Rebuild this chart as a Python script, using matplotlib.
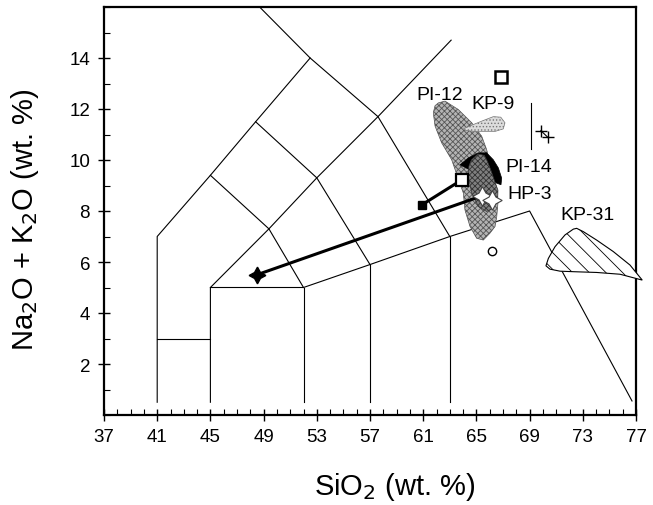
import matplotlib
matplotlib.use("Agg")
import matplotlib.pyplot as plt
from matplotlib.patches import Polygon

plt.rcParams['font.family'] = ['Liberation Sans', 'DejaVu Sans']
plt.rcParams['hatch.linewidth'] = 0.6

# TAS classification boundary segments (SiO2, Na2O+K2O)
tas_lines = [
    [(41, 0.5), (41, 7), (45, 9.4), (48.4, 11.5), (52.5, 14), (48.7, 16)],
    [(41, 3), (45, 3)],
    [(45, 0.5), (45, 5), (52, 5), (57, 5.9), (63, 7), (69, 8), (76.7, 0.55)],
    [(52, 0.5), (52, 5)],
    [(57, 0.5), (57, 5.9)],
    [(63, 0.5), (63, 7)],
    [(45, 5), (49.4, 7.3), (53, 9.3), (57.6, 11.7), (63.1, 14.7)],
    [(45, 9.4), (49.4, 7.3), (52, 5)],
    [(48.4, 11.5), (53, 9.3), (57, 5.9)],
    [(52.5, 14), (57.6, 11.7), (63, 7)],
    [(69.1, 10.45), (69.1, 12.25)],
]

# Field outlines
pi12_x = [62.14, 62.64, 63.64, 64.65, 65.40, 65.77, 66.02, 66.40, 66.62, 66.53, 66.40, 66.02,
          65.52, 65.02, 64.52, 64.14, 64.02, 63.62, 63.14, 62.39, 61.89, 61.76, 61.89]
pi12_y = [12.24, 12.31, 11.98, 11.46, 10.93, 10.41, 9.88, 9.09, 8.31, 7.78, 7.39, 7.13,
          6.86, 6.93, 7.39, 8.04, 8.70, 9.29, 10.01, 10.67, 11.33, 11.85, 12.13]
pi14_x = [63.77, 64.39, 65.14, 65.77, 66.27, 66.65, 66.90, 66.85, 66.53, 65.87, 65.12, 64.37]
pi14_y = [9.81, 10.08, 10.28, 10.28, 10.01, 9.69, 9.29, 9.03, 9.09, 9.29, 9.49, 9.65]
hp3_x = [64.62, 65.12, 65.60, 65.85, 66.10, 66.35, 66.62, 66.60, 66.27, 65.77, 65.14, 64.65,
         64.39, 64.44]
hp3_y = [10.00, 10.24, 10.18, 9.92, 9.58, 9.20, 8.82, 8.44, 8.11, 7.98, 8.18, 8.70,
         9.36, 9.76]
kp9_x = [64.02, 64.77, 65.52, 66.27, 66.83, 67.15, 67.02, 66.40, 65.52, 64.65, 64.14]
kp9_y = [11.22, 11.39, 11.55, 11.70, 11.68, 11.46, 11.22, 11.12, 11.12, 11.13, 11.17]
kp31_x = [72.54, 73.04, 74.04, 75.29, 76.55, 77.47, 77.04, 75.80, 74.04, 72.29, 71.29, 70.53,
          70.23, 70.41, 70.91, 71.66, 72.29]
kp31_y = [7.32, 7.19, 6.86, 6.41, 5.88, 5.29, 5.35, 5.52, 5.59, 5.62, 5.64, 5.72,
          5.85, 6.14, 6.60, 7.06, 7.29]

# Points
star_filled = (48.5, 5.5)
stars_open_x = [65.45, 66.15]
stars_open_y = [8.6, 8.42]
sq_filled = (60.9, 8.24)
sq_open = (63.9, 9.22)
sq_kp9 = (66.83, 13.26)
circle_pt = (66.2, 6.45)
plus_x = [69.85, 70.35]
plus_y = [11.15, 10.9]

labels = [("PI-12", 60.5, 12.55), ("KP-9", 64.65, 12.22), ("PI-14", 67.15, 9.75),
          ("HP-3", 67.3, 8.7), ("KP-31", 71.3, 7.85)]

fig = plt.figure(figsize=(6.53, 5.06), dpi=100)
ax = fig.add_axes([104/653, 1-416/506, (636-104)/653, (416-8)/506])
ax.set_xlim(37, 77)
ax.set_ylim(0, 16)

for seg in tas_lines:
    xs, ys = zip(*seg)
    ax.plot(xs, ys, color='black', lw=0.8, zorder=2)

ax.add_patch(Polygon(list(zip(pi12_x, pi12_y)), closed=True, facecolor='#b4b4b4',
                     edgecolor='#555555', hatch='xxxxxx', lw=0.5, zorder=3))
ax.add_patch(Polygon(list(zip(pi14_x, pi14_y)), closed=True, facecolor='black',
                     edgecolor='black', lw=0.5, zorder=4))
ax.add_patch(Polygon(list(zip(hp3_x, hp3_y)), closed=True, facecolor='#808080',
                     edgecolor='#333333', hatch='xxxxxx', lw=0.5, zorder=5))
ax.add_patch(Polygon(list(zip(kp9_x, kp9_y)), closed=True, facecolor='#dcdcdc',
                     edgecolor='#777777', hatch='.....', lw=0.5, zorder=3))
ax.add_patch(Polygon(list(zip(kp31_x, kp31_y)), closed=True, facecolor='white',
                     edgecolor='black', hatch='\\\\', lw=0.8, zorder=3, clip_on=False))

ax.plot([star_filled[0], stars_open_x[0]], [star_filled[1], stars_open_y[0]],
        color='black', lw=2.2, zorder=6)
ax.plot([sq_filled[0], sq_open[0]], [sq_filled[1], sq_open[1]], color='black', lw=2.2, zorder=6)
ax.plot(plus_x, plus_y, color='black', lw=0.8, zorder=6)

ax.plot(*star_filled, marker=(4, 1, 0), ms=12, color='black', zorder=7)
ax.plot(stars_open_x, stars_open_y, ls='none', marker=(4, 1, 0), ms=14,
        mfc='white', mec='#444444', mew=0.8, zorder=7)
ax.plot(*sq_filled, marker='s', ms=6, color='black', zorder=7)
ax.plot(*sq_open, marker='s', ms=8, mfc='white', mec='black', mew=1.6, zorder=7)
ax.plot(*sq_kp9, marker='s', ms=8, mfc='white', mec='black', mew=1.8, zorder=7)
ax.plot(*circle_pt, marker='o', ms=6, mfc='white', mec='black', mew=1.0, zorder=7)
ax.plot(plus_x, plus_y, ls='none', marker='+', ms=9, mew=1.0, color='black', zorder=7)

for txt, x, y in labels:
    ax.text(x, y, txt, fontsize=14, ha='left', va='center', zorder=8)

ax.set_xticks(range(37, 78, 4))
ax.set_xticks(range(37, 78, 1), minor=True)
ax.set_yticks([2, 4, 6, 8, 10, 12, 14])
ax.set_yticks(range(0, 17, 1), minor=True)
ax.tick_params(which='major', direction='inout', length=8, width=1, labelsize=13.5)
ax.tick_params(axis='y', which='major', pad=6)
ax.tick_params(axis='x', which='major', pad=5)
ax.tick_params(which='minor', direction='in', length=4, width=0.8)
for s in ax.spines.values():
    s.set_linewidth(1.6)

fig.text(395/653, 1-487/506, 'SiO$_2$ (wt. %)', fontsize=21, ha='center', va='center')
fig.text(25/653, 1-220/506, 'Na$_2$O + K$_2$O (wt. %)', fontsize=21, ha='center',
         va='center', rotation=90)

fig.savefig('out.png', dpi=100)
